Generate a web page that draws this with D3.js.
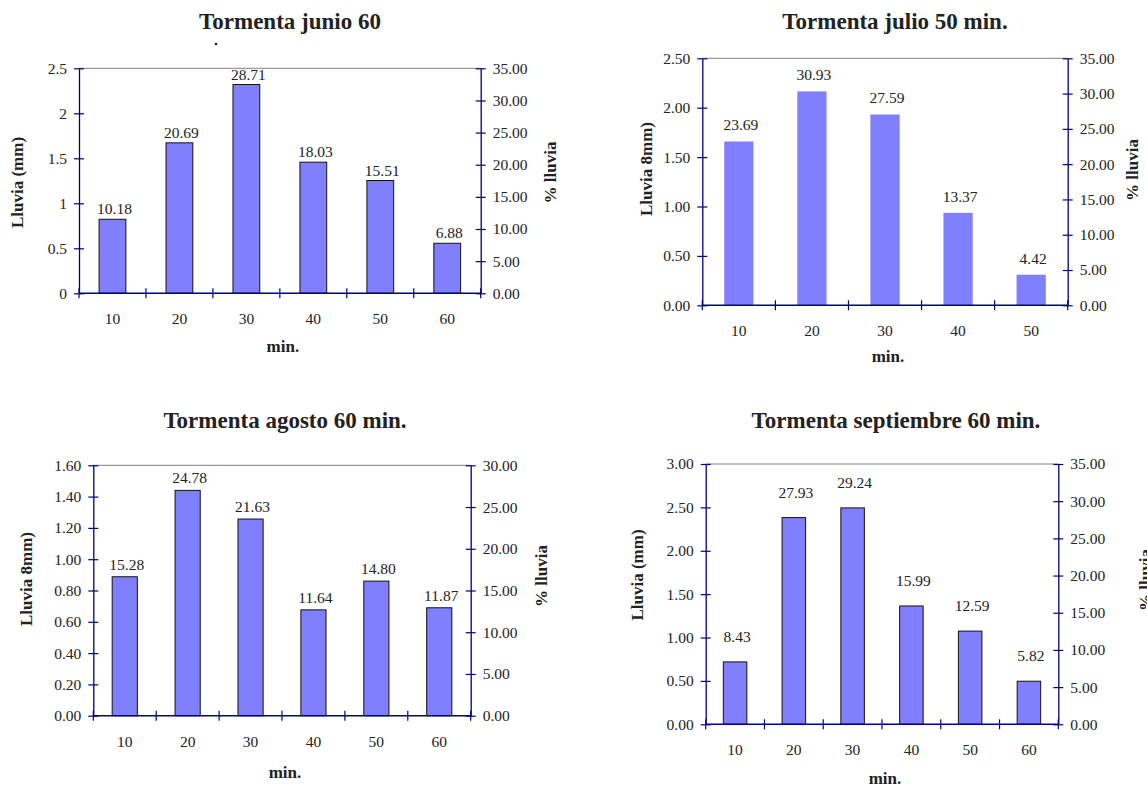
<!DOCTYPE html>
<html>
<head>
<meta charset="utf-8">
<script src="https://cdn.jsdelivr.net/npm/d3@7"></script>
<style>
  html, body { margin: 0; padding: 0; background: #fff; overflow: hidden; }
  svg { display: block; font-family: "Liberation Serif", "Times New Roman", serif; }
</style>
</head>
<body>
<svg id="chart" width="1147" height="789"></svg>
<script>
// Rainfall per 10-minute interval for four storms.
// Labels give the share of the storm total (%); bars show rainfall in mm.
const minutesSix  = ["10", "20", "30", "40", "50", "60"];
const minutesFive = ["10", "20", "30", "40", "50"];

const junioPct      = [10.18, 20.69, 28.71, 18.03, 15.51, 6.88];
const julioPct      = [23.69, 30.93, 27.59, 13.37, 4.42];
const agostoPct     = [15.28, 24.78, 21.63, 11.64, 14.80, 11.87];
const septiembrePct = [8.43, 27.93, 29.24, 15.99, 12.59, 5.82];

// storm totals (mm)
const junioTotal      = 8.08;
const julioTotal      = 7.00;
const agostoTotal     = 5.81;
const septiembreTotal = 8.53;

// axis ticks
const mmTicksJunio      = [0, 0.5, 1, 1.5, 2, 2.5];
const mmTicksJulio      = [0, 0.5, 1, 1.5, 2, 2.5];
const mmTicksAgosto     = [0, 0.2, 0.4, 0.6, 0.8, 1.0, 1.2, 1.4, 1.6];
const mmTicksSeptiembre = [0, 0.5, 1, 1.5, 2, 2.5, 3];
const pctTicks35 = [0, 5, 10, 15, 20, 25, 30, 35];
const pctTicks30 = [0, 5, 10, 15, 20, 25, 30];

const NAVY = "#000080";
const TEXT = "#222";
const BAR = "#8080ff";
const FONT = "'Liberation Serif', 'Times New Roman', serif";

const panels = [
  {
    title: "Tormenta junio 60", cats: minutesSix, pct: junioPct, total: junioTotal,
    mmTicks: mmTicksJunio, mmFmt: d => String(d), pctTicks: pctTicks35,
    yTitle: "Lluvia (mm)",
    box: { l: 79, r: 480.7, t: 68.3, b: 293.3 },
    titlePos: [290, 29], yTitlePos: [17.5, 182.5], y2TitlePos: [550, 172.5],
    xTitleDy: 59, labelGap: 5, outline: true, stray: [216, 44]
  },
  {
    title: "Tormenta julio 50 min.", cats: minutesFive, pct: julioPct, total: julioTotal,
    mmTicks: mmTicksJulio, mmFmt: d3.format(".2f"), pctTicks: pctTicks35,
    yTitle: "Lluvia 8mm)",
    box: { l: 702.3, r: 1067.7, t: 58.3, b: 305.3 },
    titlePos: [895, 29], yTitlePos: [645.7, 169], y2TitlePos: [1131.7, 170],
    xTitleDy: 57, labelGap: 11, outline: false
  },
  {
    title: "Tormenta agosto 60 min.", cats: minutesSix, pct: agostoPct, total: agostoTotal,
    mmTicks: mmTicksAgosto, mmFmt: d3.format(".2f"), pctTicks: pctTicks30,
    yTitle: "Lluvia 8mm)",
    box: { l: 93.3, r: 470.7, t: 465.3, b: 715.7 },
    titlePos: [285, 428], yTitlePos: [26, 579], y2TitlePos: [540.7, 576],
    xTitleDy: 62, labelGap: 7, outline: true
  },
  {
    title: "Tormenta septiembre 60 min.", cats: minutesSix, pct: septiembrePct, total: septiembreTotal,
    mmTicks: mmTicksSeptiembre, mmFmt: d3.format(".2f"), pctTicks: pctTicks35,
    yTitle: "Lluvia (mm)",
    box: { l: 705.7, r: 1058.3, t: 464, b: 724.3 },
    titlePos: [896, 428], yTitlePos: [637, 575], y2TitlePos: [1145, 580],
    xTitleDy: 60, labelGap: 20, outline: true
  }
];

const svg = d3.select("#chart");
svg.append("rect").attr("width", 1147).attr("height", 789).attr("fill", "#fff");

function styleAxis(g, inward) {
  g.attr("font-family", FONT).attr("font-size", null);
  g.select(".domain").attr("stroke", NAVY).attr("stroke-width", 1.3);
  g.selectAll(".tick line").attr("stroke", NAVY).attr("stroke-width", 1.2).attr("x1", inward);
  g.selectAll(".tick text").attr("fill", TEXT).style("font-size", "15.5px");
}

panels.forEach(p => {
  const { l, r, t, b } = p.box;
  const g = svg.append("g");

  const x = d3.scaleBand().domain(p.cats).range([l, r]).paddingInner(0.6).paddingOuter(0.3);
  const yMm = d3.scaleLinear().domain([0, d3.max(p.mmTicks)]).range([b, t]);
  const yPct = d3.scaleLinear().domain([0, d3.max(p.pctTicks)]).range([b, t]);

  const rows = p.cats.map((c, i) => ({ cat: c, pct: p.pct[i], mm: p.pct[i] * p.total / 100 }));

  // top frame line
  g.append("line").attr("x1", l).attr("x2", r).attr("y1", t).attr("y2", t)
    .attr("stroke", "#808080").attr("stroke-width", 1);

  // bars
  g.selectAll("rect.bar").data(rows).join("rect")
    .attr("class", "bar")
    .attr("x", d => x(d.cat))
    .attr("width", x.bandwidth())
    .attr("y", d => yMm(d.mm))
    .attr("height", d => b - yMm(d.mm))
    .attr("fill", BAR)
    .attr("stroke", p.outline ? "#111" : "none")
    .attr("stroke-width", p.outline ? 1 : 0);

  // value labels (% of storm total)
  g.selectAll("text.val").data(rows).join("text")
    .attr("class", "val")
    .attr("x", d => x(d.cat) + x.bandwidth() / 2 + 2)
    .attr("y", d => yMm(d.mm) - p.labelGap)
    .attr("text-anchor", "middle")
    .attr("fill", TEXT)
    .style("font-size", "15.5px")
    .text(d => d3.format(".2f")(d.pct));

  // left axis (mm)
  const gl = g.append("g").attr("transform", `translate(${l},0)`)
    .call(d3.axisLeft(yMm).tickValues(p.mmTicks).tickFormat(p.mmFmt)
      .tickSizeInner(5).tickSizeOuter(0).tickPadding(7));
  styleAxis(gl, 5);

  // right axis (%)
  const gr = g.append("g").attr("transform", `translate(${r},0)`)
    .call(d3.axisRight(yPct).tickValues(p.pctTicks).tickFormat(d3.format(".2f"))
      .tickSizeInner(5).tickSizeOuter(0).tickPadding(7));
  styleAxis(gr, -5);

  // bottom axis: labels centred on categories, ticks on category boundaries
  const gb = g.append("g").attr("transform", `translate(0,${b})`)
    .call(d3.axisBottom(x).tickSize(0).tickPadding(20));
  gb.attr("font-family", FONT).attr("font-size", null);
  gb.select(".domain").remove();
  gb.selectAll(".tick text").attr("fill", TEXT).style("font-size", "15.5px");

  const bounds = d3.range(p.cats.length + 1).map(i => l + i * x.step());
  g.append("line").attr("x1", l).attr("x2", r).attr("y1", b).attr("y2", b)
    .attr("stroke", NAVY).attr("stroke-width", 1.5);
  g.selectAll("line.xtick").data(bounds).join("line")
    .attr("class", "xtick")
    .attr("x1", d => d).attr("x2", d => d)
    .attr("y1", b - 5).attr("y2", b + 5)
    .attr("stroke", NAVY).attr("stroke-width", 1.2);

  // titles
  g.append("text")
    .attr("x", p.titlePos[0]).attr("y", p.titlePos[1])
    .attr("text-anchor", "middle").attr("fill", TEXT)
    .style("font-size", "23px").style("font-weight", "bold")
    .text(p.title);

  if (p.stray) {
    g.append("circle").attr("cx", p.stray[0]).attr("cy", p.stray[1])
      .attr("r", 1.3).attr("fill", TEXT);
  }

  g.append("text")
    .attr("x", (l + r) / 2 + 3).attr("y", b + p.xTitleDy)
    .attr("text-anchor", "middle").attr("fill", TEXT)
    .style("font-size", "17px").style("font-weight", "bold")
    .text("min.");

  g.append("text")
    .attr("transform", `translate(${p.yTitlePos[0]},${p.yTitlePos[1]}) rotate(-90)`)
    .attr("dy", "0.35em")
    .attr("text-anchor", "middle").attr("fill", TEXT)
    .style("font-size", "17px").style("font-weight", "bold")
    .text(p.yTitle);

  g.append("text")
    .attr("transform", `translate(${p.y2TitlePos[0]},${p.y2TitlePos[1]}) rotate(-90)`)
    .attr("dy", "0.35em")
    .attr("text-anchor", "middle").attr("fill", TEXT)
    .style("font-size", "17px").style("font-weight", "bold")
    .text("% lluvia");
});
</script>
</body>
</html>
